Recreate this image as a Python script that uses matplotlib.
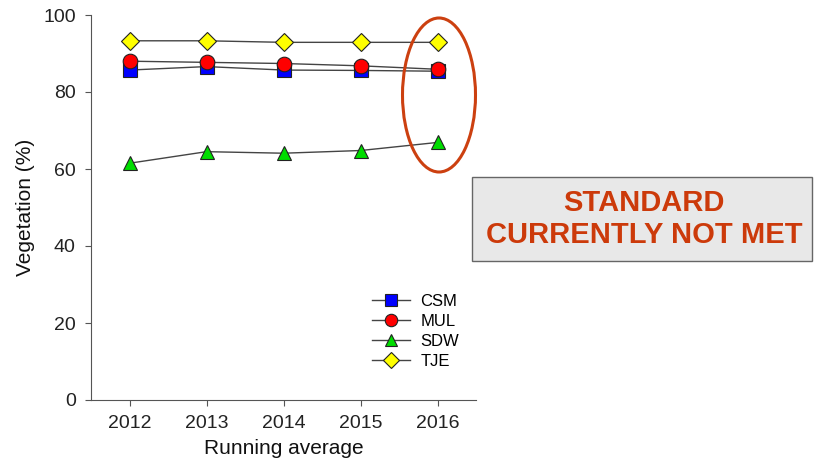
import matplotlib
matplotlib.use('Agg')
import matplotlib.pyplot as plt
from matplotlib.patches import Ellipse, Rectangle

plt.rcParams['font.family'] = ['Liberation Sans', 'DejaVu Sans']

years = [2012, 2013, 2014, 2015, 2016]
csm = [85.7, 86.6, 85.7, 85.6, 85.4]
mul = [88.0, 87.7, 87.4, 86.8, 85.9]
sdw = [61.5, 64.5, 64.1, 64.8, 66.9]
tje = [93.3, 93.3, 92.9, 92.9, 92.9]

series = [
    ("CSM", csm, "s", "#0000FF"),
    ("MUL", mul, "o", "#FF0000"),
    ("SDW", sdw, "^", "#00DD00"),
    ("TJE", tje, "D", "#FFFF00"),
]

W, H = 817, 466
fig = plt.figure(figsize=(W / 100, H / 100), dpi=100)
ax = fig.add_axes([91 / W, 1 - 400 / H, (476 - 91) / W, (400 - 15) / H])

for name, vals, mk, col in series:
    ms = 9.5 if mk == "D" else 10.5
    ax.plot(years, vals, color="#444444", linewidth=1.0, marker=mk,
            markersize=ms, markerfacecolor=col, markeredgecolor="#222222",
            markeredgewidth=0.8, label=name)

ax.set_xlim(2011.5, 2016.5)
ax.set_ylim(0, 100)
ax.set_xticks(years)
ax.set_yticks([0, 20, 40, 60, 80, 100])
for s in ("top", "right"):
    ax.spines[s].set_visible(False)
for s in ("left", "bottom"):
    ax.spines[s].set_color("#555555")
    ax.spines[s].set_linewidth(0.8)
ax.tick_params(direction="out", length=4, width=0.8, color="#555555",
               labelsize=14, labelcolor="#222222", pad=7)
ax.set_xlabel("Running average", fontsize=15, color="#111111", labelpad=5)
ax.set_ylabel("Vegetation (%)", fontsize=15, color="#111111", labelpad=6)

ax.legend(loc="upper left", bbox_to_anchor=(0.73, 0.275), frameon=False,
          fontsize=12, handlelength=2.3, labelspacing=0.3, markerscale=0.85,
          handletextpad=0.6, borderpad=0.0, borderaxespad=0.0)

# highlight ellipse around 2016
ell = Ellipse((439 / W, 1 - 95 / H), 73 / W, 154 / H, transform=fig.transFigure,
              fill=False, edgecolor="#CC4010", linewidth=2.2)
fig.patches.append(ell)

# callout box
box = Rectangle((472 / W, 1 - 261 / H), (812 - 472) / W, (261 - 177) / H,
                transform=fig.transFigure, facecolor="#E8E8E8",
                edgecolor="#666666", linewidth=1.0)
fig.patches.append(box)
fig.text(644 / W, 1 - 219 / H, "STANDARD\nCURRENTLY NOT MET", ha="center",
         va="center", fontsize=21, fontweight="bold", color="#CC3A0A",
         linespacing=1.2)

fig.savefig("out.png", dpi=100)
